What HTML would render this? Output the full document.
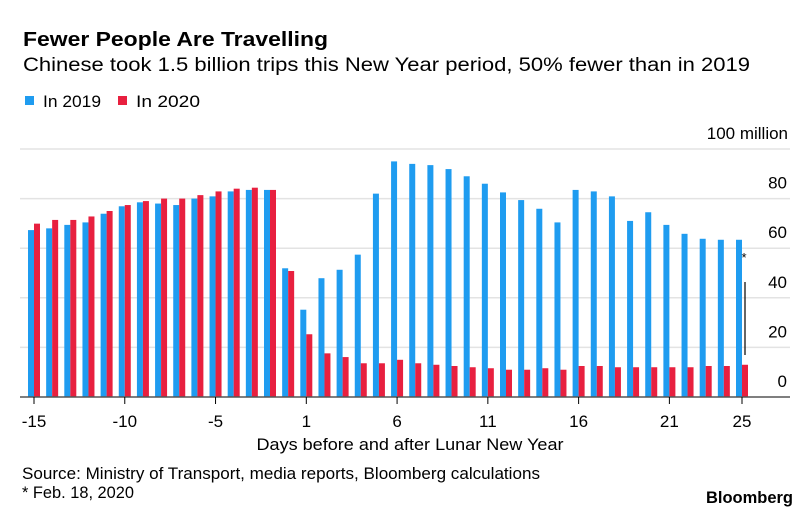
<!DOCTYPE html>
<html><head><meta charset="utf-8"><style>
html,body{margin:0;padding:0;background:#fff;}
svg{display:block;font-family:"Liberation Sans",sans-serif;}
</style></head><body>
<svg id="chart" width="810" height="520" viewBox="0 0 810 520">
<text x="23" y="46" font-size="20.5" font-weight="bold" fill="#000" textLength="305" lengthAdjust="spacingAndGlyphs">Fewer People Are Travelling</text>
<text x="23" y="71" font-size="19" fill="#000" textLength="727" lengthAdjust="spacingAndGlyphs">Chinese took 1.5 billion trips this New Year period, 50% fewer than in 2019</text>
<g>
<rect x="25" y="96" width="9" height="9" fill="#1f9cf0"/>
<text x="43" y="107" font-size="17" textLength="58" lengthAdjust="spacingAndGlyphs">In 2019</text>
<rect x="118" y="96" width="9" height="9" fill="#e8203f"/>
<text x="136" y="107" font-size="17" textLength="64" lengthAdjust="spacingAndGlyphs">In 2020</text>
</g>
<text x="788" y="139" font-size="17" text-anchor="end">100 million</text>
<g id="grid"></g>
<g id="bars"></g>
<g id="xaxis"></g>
<text x="410" y="450" font-size="17" text-anchor="middle" font-family="Liberation Sans Narrow, Liberation Sans, sans-serif" textLength="307" lengthAdjust="spacingAndGlyphs">Days before and after Lunar New Year</text>
<text x="22" y="479" font-size="16.5" font-family="Liberation Sans Narrow, Liberation Sans, sans-serif" textLength="518" lengthAdjust="spacingAndGlyphs">Source: Ministry of Transport, media reports, Bloomberg calculations</text>
<text x="22" y="498" font-size="16.5" font-family="Liberation Sans Narrow, Liberation Sans, sans-serif" textLength="112" lengthAdjust="spacingAndGlyphs">* Feb. 18, 2020</text>
<text x="793" y="503" font-size="17" font-weight="bold" text-anchor="end" font-family="Liberation Sans Narrow, Liberation Sans, sans-serif" textLength="87" lengthAdjust="spacingAndGlyphs">Bloomberg</text>
<text x="744" y="262" font-size="13" text-anchor="middle">*</text>
<line x1="745" y1="282" x2="745" y2="355" stroke="#000" stroke-width="1.2"/>
</svg>
<script>
const days = [-15,-14,-13,-12,-11,-10,-9,-8,-7,-6,-5,-4,-3,-2,-1,1,2,3,4,5,6,7,8,9,10,11,12,13,14,15,16,17,18,19,20,21,22,23,24,25];
const trips2019 = [67.3,68,69.4,70.4,73.9,76.9,78.5,78,77.4,80,80.9,82.9,83.5,83.5,51.9,35.2,47.9,51.3,57.4,82,95,94,93.5,91.9,89,86,82.5,79.4,75.9,70.4,83.5,82.9,80.9,71,74.5,69.4,65.8,63.8,63.4,63.4];
const trips2020 = [69.9,71.4,71.4,72.8,75,77.4,79,80,80,81.4,82.9,84,84.4,83.5,50.8,25.3,17.6,16.1,13.6,13.6,15,13.6,13,12.5,12,11.6,11,11,11.6,11,12.5,12.5,12,12,12,12,12,12.5,12.5,13];
const yTicks = [0,20,40,60,80];
const xTickLabels = [-15,-10,-5,1,6,11,16,21,25];
const NS='http://www.w3.org/2000/svg';
const y0=397, pxPerUnit=2.48, x0=34, step=(742-34)/39, bw=6;
const yScale=v=>y0-v*pxPerUnit;
const xScale=d=>x0+days.indexOf(d)*step;
function mk(tag,attrs,parent){const e=document.createElementNS(NS,tag);for(const k in attrs)e.setAttribute(k,attrs[k]);parent.appendChild(e);return e;}
const grid=document.getElementById('grid'),bars=document.getElementById('bars'),xa=document.getElementById('xaxis');
[...yTicks,100].forEach(t=>{
  if(t===0)return;
  const l=mk('line',{x1:20,x2:790,y1:yScale(t),y2:yScale(t),stroke:'#e3e3e3','stroke-width':1.5},grid);
  
  
});
yTicks.forEach(t=>{
  const tx=mk('text',{x:787,y:yScale(t)-10,'font-size':17,'text-anchor':'end'},grid);
  tx.textContent=t;
  
  
});
days.forEach((d,i)=>{
  const cx=xScale(d);
  const b=mk('rect',{x:cx-bw,y:yScale(trips2019[i]),width:bw,height:trips2019[i]*pxPerUnit,fill:'#1f9cf0'},bars);
  
  
  const r=mk('rect',{x:cx,y:yScale(trips2020[i]),width:bw,height:trips2020[i]*pxPerUnit,fill:'#e8203f'},bars);
  
  
});
const ax=mk('line',{x1:20,x2:790,y1:y0,y2:y0,stroke:'#555','stroke-width':1.5},xa);


xTickLabels.forEach(d=>{
  const cx=xScale(d);
  const tk=mk('line',{x1:cx,x2:cx,y1:y0,y2:y0+7,stroke:'#000','stroke-width':1},xa);
  
  
  const tx=mk('text',{x:cx,y:427,'font-size':17,'text-anchor':'middle','font-family':'Liberation Sans Narrow, Liberation Sans, sans-serif'},xa);
  tx.textContent=d;
  
  
});
</script>
</body></html>
